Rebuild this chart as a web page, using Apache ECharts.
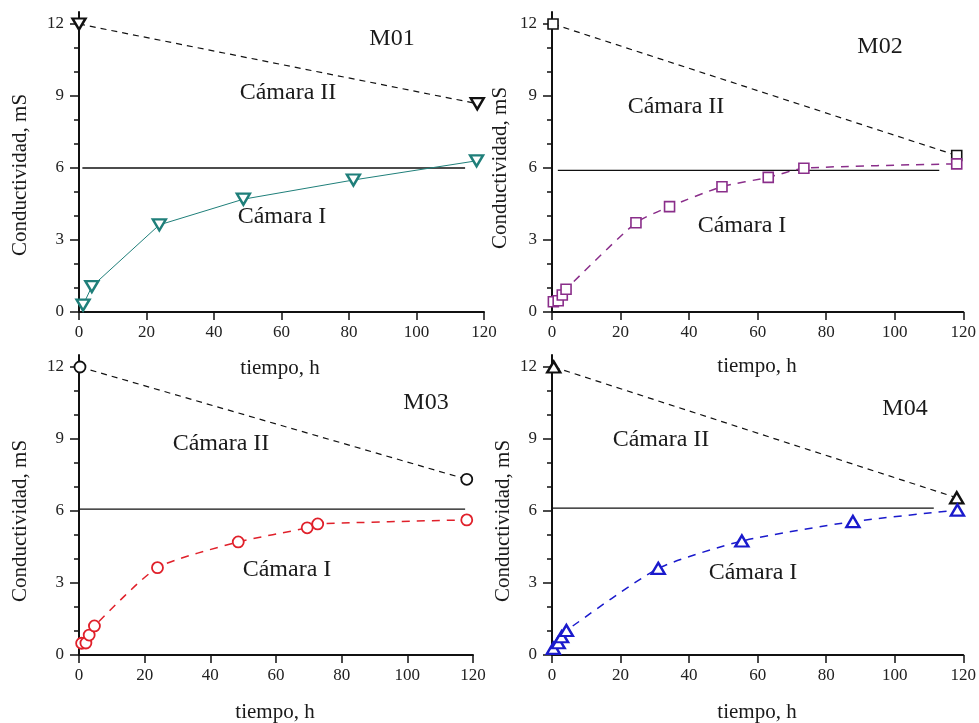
<!DOCTYPE html>
<html>
<head>
<meta charset="utf-8">
<title>Conductividad vs tiempo</title>
<script src="https://cdn.jsdelivr.net/npm/echarts@6/dist/echarts.min.js"></script>
<style>
  html, body { margin: 0; padding: 0; background: #fff; }
  #chart { width: 979px; height: 723px; }
</style>
</head>
<body>
<div id="chart"></div>
<script>
// ---- Axis ticks ----
const xTicks = [0, 20, 40, 60, 80, 100, 120];
const yMajorTicks = [0, 3, 6, 9, 12];
const yMinorTicks = [1, 2, 4, 5, 7, 8, 10, 11];

// ---- Panel titles and labels ----
const panelNames = ['M01', 'M02', 'M03', 'M04'];
const chamberLabels = ['Cámara II', 'Cámara I'];
const xTitle = 'tiempo, h';
const yTitle = 'Conductividad, mS';

// ---- M01 ----
const m01TimeI = [1.2, 3.8, 23.8, 48.7, 81.3, 117.8];
const m01CondI = [0.29, 1.06, 3.63, 4.70, 5.50, 6.30];
const m01TimeII = [0, 118];
const m01CondII = [12, 8.68];
const m01RefTime = [1, 114.4];
const m01RefCond = [6.0, 6.0];

// ---- M02 ----
const m02TimeI = [0.4, 1.8, 3.0, 4.1, 24.5, 34.3, 49.6, 63.1, 73.5, 118.1];
const m02CondI = [0.43, 0.47, 0.71, 0.95, 3.72, 4.39, 5.22, 5.61, 5.99, 6.17];
const m02TimeII = [0.3, 118.1];
const m02CondII = [12, 6.52];
const m02RefTime = [1.7, 113];
const m02RefCond = [5.9, 5.9];

// ---- M03 ----
const m03TimeI = [0.8, 2.1, 3.1, 4.7, 23.9, 48.5, 69.5, 72.7, 118.1];
const m03CondI = [0.49, 0.50, 0.83, 1.21, 3.64, 4.71, 5.30, 5.46, 5.63];
const m03TimeII = [0.3, 118.1];
const m03CondII = [12, 7.32];
const m03RefTime = [0, 117.6];
const m03RefCond = [6.08, 6.08];

// ---- M04 ----
const m04TimeI = [0.4, 1.8, 2.8, 4.2, 31.0, 55.4, 87.8, 118.3];
const m04CondI = [0.28, 0.51, 0.76, 1.02, 3.61, 4.75, 5.56, 6.04];
const m04TimeII = [0.5, 118.1];
const m04CondII = [12, 6.55];
const m04RefTime = [0, 111.4];
const m04RefCond = [6.12, 6.12];

// ---- Layout and styles ----
const FONT = '"Liberation Serif", "Times New Roman", serif';
const grids = [
  { left: 79, top: 12, width: 405, height: 300 },
  { left: 552, top: 12, width: 412, height: 300 },
  { left: 79, top: 355, width: 394, height: 300 },
  { left: 552, top: 355, width: 412, height: 300 }
];

const panelStyles = [
  { color: '#1f7f7a', symbol: 'triangle', rotate: 180, size: [13, 11], border: 2.4,
    dashed: false, smooth: false, lineWidth: 1 },
  { color: '#8a2e8a', symbol: 'rect', rotate: 0, size: [10, 10], border: 1.6,
    dashed: true, smooth: 0.2, lineWidth: 1.5 },
  { color: '#e0202a', symbol: 'circle', rotate: 0, size: [11, 11], border: 1.8,
    dashed: true, smooth: 0.2, lineWidth: 1.5 },
  { color: '#1a1acc', symbol: 'triangle', rotate: 0, size: [13, 11], border: 2.4,
    dashed: true, smooth: 0.2, lineWidth: 1.5 }
];

const sets = [
  { tI: m01TimeI, cI: m01CondI, tII: m01TimeII, cII: m01CondII, tR: m01RefTime, cR: m01RefCond },
  { tI: m02TimeI, cI: m02CondI, tII: m02TimeII, cII: m02CondII, tR: m02RefTime, cR: m02RefCond },
  { tI: m03TimeI, cI: m03CondI, tII: m03TimeII, cII: m03CondII, tR: m03RefTime, cR: m03RefCond },
  { tI: m04TimeI, cI: m04CondI, tII: m04TimeII, cII: m04CondII, tR: m04RefTime, cR: m04RefCond }
];

// Annotation text positions (pixels)
const textPos = [
  { name: [392, 39], ii: [288, 93], i: [282, 217], xt: [280, 368], yt: [20, 175] },
  { name: [880, 47], ii: [676, 107], i: [742, 226], xt: [757, 366], yt: [500, 168] },
  { name: [426, 403], ii: [221, 444], i: [287, 570], xt: [275, 712], yt: [20, 521] },
  { name: [905, 409], ii: [661, 440], i: [753, 573], xt: [757, 712], yt: [503, 521] }
];

const zip = (xs, ys) => xs.map((x, k) => [x, ys[k]]);

const xAxes = grids.map((g, i) => ({
  type: 'value', gridIndex: i, min: 0, max: 120, interval: 20,
  axisLine: { onZero: false, lineStyle: { color: '#111', width: 2 } },
  axisTick: { inside: false, length: 8, lineStyle: { color: '#111', width: 1.5 },
    customValues: xTicks },
  axisLabel: { margin: 12, color: '#222', fontFamily: FONT, fontSize: 17,
    customValues: xTicks },
  splitLine: { show: false }
}));

const yMajor = grids.map((g, i) => ({
  type: 'value', gridIndex: i, min: 0, max: 12.5,
  axisLine: { show: true, onZero: false, lineStyle: { color: '#111', width: 2 } },
  axisTick: { show: true, inside: false, length: 9, lineStyle: { color: '#111', width: 1.5 },
    customValues: yMajorTicks },
  axisLabel: { margin: 15, color: '#222', fontFamily: FONT, fontSize: 17,
    customValues: yMajorTicks },
  splitLine: { show: false }
}));

const yMinor = grids.map((g, i) => ({
  type: 'value', gridIndex: i, min: 0, max: 12.5, position: 'left',
  axisLine: { show: false, onZero: false },
  axisTick: { show: true, inside: false, length: 5, lineStyle: { color: '#111', width: 1.5 },
    customValues: yMinorTicks },
  axisLabel: { show: false },
  splitLine: { show: false }
}));

const series = [];
sets.forEach((s, i) => {
  const st = panelStyles[i];
  // reference level
  series.push({
    type: 'line', xAxisIndex: i, yAxisIndex: i, data: zip(s.tR, s.cR),
    symbol: 'none', lineStyle: { color: '#111', width: 1.3 }, z: 2
  });
  // chamber II (dashed, black markers)
  series.push({
    type: 'line', xAxisIndex: i, yAxisIndex: i, data: zip(s.tII, s.cII),
    symbol: st.symbol, symbolSize: st.size, symbolRotate: st.rotate,
    itemStyle: { color: '#fff', borderColor: '#111', borderWidth: st.border },
    lineStyle: { color: '#111', width: 1.2, type: [6, 5] }, z: 3
  });
  // chamber I (coloured)
  series.push({
    type: 'line', xAxisIndex: i, yAxisIndex: i, data: zip(s.tI, s.cI),
    smooth: st.smooth,
    symbol: st.symbol, symbolSize: st.size, symbolRotate: st.rotate,
    itemStyle: { color: '#fff', borderColor: st.color, borderWidth: st.border },
    lineStyle: { color: st.color, width: st.lineWidth, type: st.dashed ? [8, 7] : 'solid' },
    z: 4
  });
});

const graphic = [];
textPos.forEach((p, i) => {
  const t = (pos, text, size, rot) => ({
    type: 'text', x: pos[0], y: pos[1], rotation: rot || 0, silent: true,
    style: { text: text, fill: '#1a1a1a', font: size + 'px ' + FONT,
      align: 'center', verticalAlign: 'middle' }
  });
  graphic.push(t(p.name, panelNames[i], 24));
  graphic.push(t(p.ii, chamberLabels[0], 24));
  graphic.push(t(p.i, chamberLabels[1], 24));
  graphic.push(t(p.xt, xTitle, 21));
  graphic.push(t(p.yt, yTitle, 21, Math.PI / 2));
});

const chart = echarts.init(document.getElementById('chart'), null, { renderer: 'canvas' });
chart.setOption({
  animation: false,
  backgroundColor: '#fff',
  grid: grids,
  xAxis: xAxes,
  yAxis: yMajor.concat(yMinor),
  series: series,
  graphic: graphic
});
</script>
</body>
</html>
